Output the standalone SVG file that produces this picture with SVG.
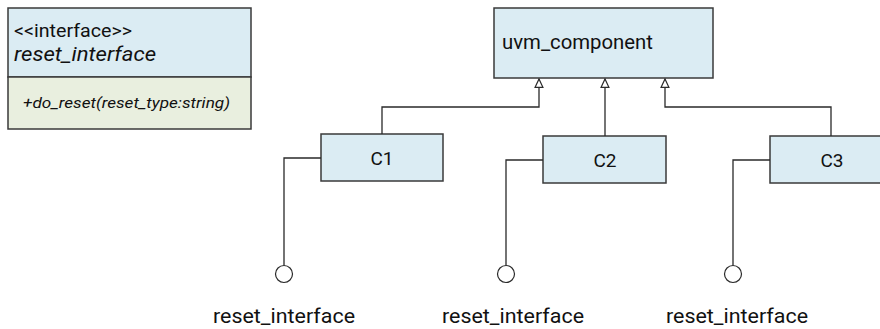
<svg xmlns="http://www.w3.org/2000/svg" width="880" height="329" viewBox="0 0 880 329">
<style>
text{font-family:Roboto,"Liberation Sans",sans-serif;fill:#111}
.box{fill:#dbecf3;stroke:#3a3a3a;stroke-width:1.5}
.ops{fill:#e9efdf;stroke:#3a3a3a;stroke-width:1.5}
.ln{fill:none;stroke:#2a2a2a;stroke-width:1.3}
.lolli{fill:#fff;stroke:#2a2a2a;stroke-width:1.2}
.lbl{font-size:20px;text-anchor:middle}
.cls{font-size:19px;text-anchor:middle}
</style>
<defs>
<marker id="gen" markerWidth="10" markerHeight="10" refX="8" refY="4" orient="auto" markerUnits="userSpaceOnUse" viewBox="0 0 9 8">
<path d="M0.5,0.5 L8,4 L0.5,7.5 Z" fill="#fff" stroke="#2a2a2a" stroke-width="1.1"/>
</marker>
</defs>
<g id="reset_interface_class">
<rect class="box" x="8" y="8" width="243" height="69"/>
<rect class="ops" x="8" y="77" width="243" height="52"/>
<text x="14" y="37" font-size="18" textLength="118" lengthAdjust="spacingAndGlyphs">&lt;&lt;interface&gt;&gt;</text>
<text x="14" y="61" font-size="20" font-style="italic" textLength="142" lengthAdjust="spacingAndGlyphs">reset_interface</text>
<text x="23" y="108" font-size="14" font-style="italic" textLength="207" lengthAdjust="spacingAndGlyphs">+do_reset(reset_type:string)</text>
</g>
<g id="uvm_component">
<rect class="box" x="494" y="8" width="219" height="70"/>
<text x="502" y="49" font-size="20" textLength="151" lengthAdjust="spacingAndGlyphs">uvm_component</text>
</g>
<g id="C1">
<rect class="box" x="321" y="134" width="122" height="47"/>
<text class="cls" x="382" y="165">C1</text>
</g>
<g id="C2">
<rect class="box" x="543" y="136" width="123" height="47"/>
<text class="cls" x="605" y="167">C2</text>
</g>
<g id="C3">
<rect class="box" x="770" y="136" width="122" height="47"/>
<text class="cls" x="832" y="167">C3</text>
</g>
<g id="connectors">
<polyline class="ln" points="382,134 382,107 539,107 539,79" marker-end="url(#gen)"/>
<polyline class="ln" points="605,136 605,79" marker-end="url(#gen)"/>
<polyline class="ln" points="831,136 831,107 665,107 665,79" marker-end="url(#gen)"/>
<polyline class="ln" points="321,158 284,158 284,265"/>
<polyline class="ln" points="543,160 506,160 506,265"/>
<polyline class="ln" points="770,160 733,160 733,265"/>
</g>
<g id="lollipop1">
<circle class="lolli" cx="284" cy="274" r="8.5"/>
<text class="lbl" x="284" y="323" textLength="142" lengthAdjust="spacingAndGlyphs">reset_interface</text>
</g>
<g id="lollipop2">
<circle class="lolli" cx="506" cy="274" r="8.5"/>
<text class="lbl" x="513" y="323" textLength="142" lengthAdjust="spacingAndGlyphs">reset_interface</text>
</g>
<g id="lollipop3">
<circle class="lolli" cx="733" cy="274" r="8.5"/>
<text class="lbl" x="737" y="323" textLength="142" lengthAdjust="spacingAndGlyphs">reset_interface</text>
</g>
</svg>
